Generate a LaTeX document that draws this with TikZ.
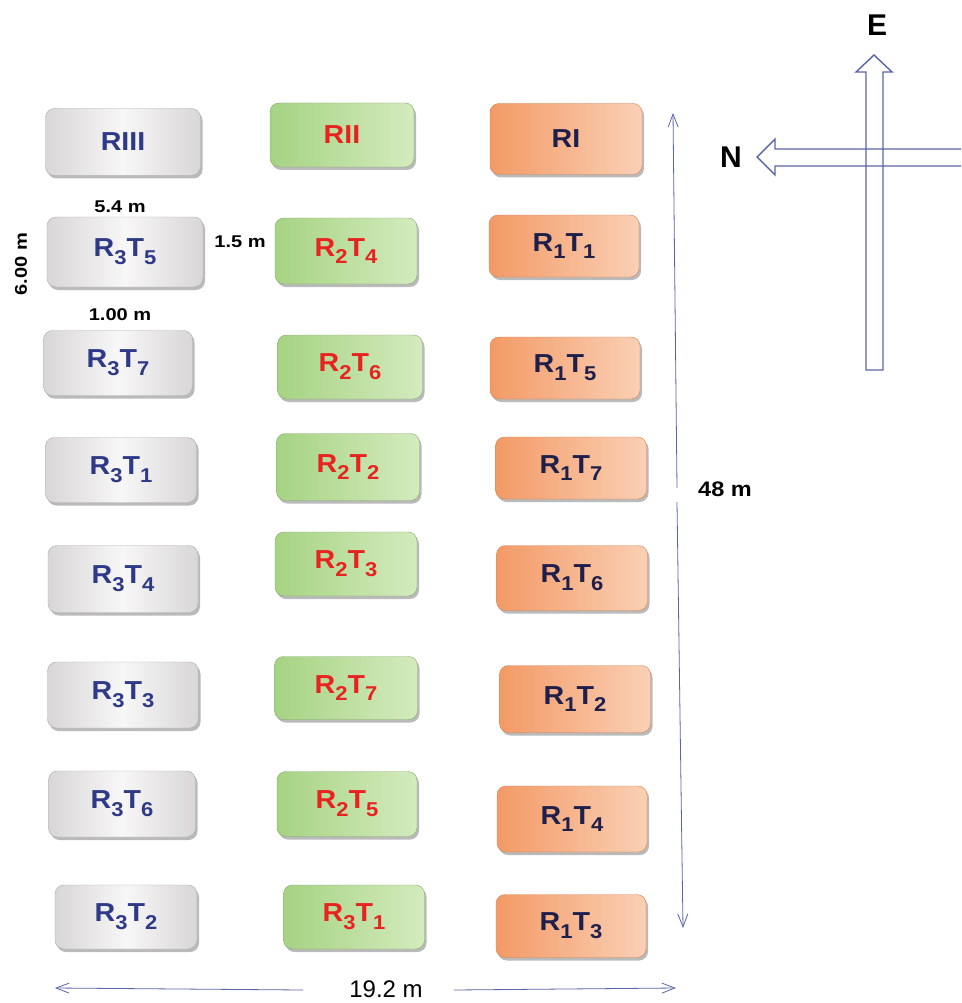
\documentclass[tikz,border=0pt]{standalone}
\usepackage{fontspec}
\setmainfont{Liberation Sans}
\usetikzlibrary{arrows.meta,shadows}
\definecolor{txtblue}{HTML}{2E3A87}
\definecolor{txtred}{HTML}{E8231F}
\definecolor{txtnavy}{HTML}{1E1F4A}
\definecolor{linblue}{HTML}{5A64A8}
\definecolor{grA}{HTML}{D8D6D6}
\definecolor{grB}{HTML}{F8F7F7}
\definecolor{gnA}{HTML}{A6D383}
\definecolor{gnB}{HTML}{D4EBBE}
\definecolor{orA}{HTML}{F39A66}
\definecolor{orB}{HTML}{FAD0B5}
\newcommand\sbs[1]{\raisebox{-0.3em}{\fontsize{20}{20}\selectfont #1}}
\newcommand\widetxt[1]{\scalebox{1.1}[1]{#1}}
\newcommand\widelab[1]{\scalebox{1.18}[1]{#1}}
\tikzset{
  plot/.style={rounded corners=9pt, inner sep=0pt, font=\bfseries\fontsize{26}{26}\selectfont,
    drop shadow={shadow xshift=2pt, shadow yshift=-3pt, fill=black!45, opacity=0.6}},
  greybox/.style={plot, draw=grA!80!black, line width=0.4pt, left color=grA, right color=grA, middle color=grB, text=txtblue},
  greenbox/.style={plot, draw=gnA!80!black, line width=0.4pt, left color=gnA, right color=gnB, text=txtred},
  orangebox/.style={plot, draw=orA!85!black, line width=0.4pt, left color=orA, right color=orB, text=txtnavy},
  dim/.style={draw=linblue, line width=0.8pt},
  dimtip/.style={-{Straight Barb[length=13pt,width=10pt,line width=0.8pt]}},
  lab/.style={font=\bfseries\fontsize{17}{17}\selectfont, text=black, inner sep=0pt},
  compass/.style={draw=linblue, line width=1.4pt, line join=miter},
}
\begin{document}
\begin{tikzpicture}[x=1pt,y=-1pt]
\useasboundingbox (0,0) rectangle (961,1003);
% grey column
\node[greybox, minimum width=155pt, minimum height=67pt] (RIII) at (123,142) {\widetxt{RIII}};
\node[greybox, minimum width=156pt, minimum height=70pt] (r3t5) at (125,252) {\widetxt{R\sbs{3}T\sbs{5}}};
\node[greybox, minimum width=149pt, minimum height=65pt] (r3t7) at (118,363) {\widetxt{R\sbs{3}T\sbs{7}}};
\node[greybox, minimum width=151pt, minimum height=65pt] (r3t1) at (121,470) {\widetxt{R\sbs{3}T\sbs{1}}};
\node[greybox, minimum width=150pt, minimum height=67pt] (r3t4) at (123,579) {\widetxt{R\sbs{3}T\sbs{4}}};
\node[greybox, minimum width=151pt, minimum height=66pt] (r3t3) at (123,695) {\widetxt{R\sbs{3}T\sbs{3}}};
\node[greybox, minimum width=147pt, minimum height=66pt] (r3t6) at (122,804) {\widetxt{R\sbs{3}T\sbs{6}}};
\node[greybox, minimum width=142pt, minimum height=64pt] (r3t2) at (126,917) {\widetxt{R\sbs{3}T\sbs{2}}};
% green column
\node[greenbox, minimum width=144pt, minimum height=64pt] (RII) at (342,135) {\widetxt{RII}};
\node[greenbox, minimum width=142pt, minimum height=66pt] (r2t4) at (346,251) {\widetxt{R\sbs{2}T\sbs{4}}};
\node[greenbox, minimum width=145pt, minimum height=64pt] (r2t6) at (350,367) {\widetxt{R\sbs{2}T\sbs{6}}};
\node[greenbox, minimum width=143pt, minimum height=67pt] (r2t2) at (348,467) {\widetxt{R\sbs{2}T\sbs{2}}};
\node[greenbox, minimum width=142pt, minimum height=64pt] (r2t3) at (346,564) {\widetxt{R\sbs{2}T\sbs{3}}};
\node[greenbox, minimum width=143pt, minimum height=63pt] (r2t7) at (346,688) {\widetxt{R\sbs{2}T\sbs{7}}};
\node[greenbox, minimum width=140pt, minimum height=65pt] (r2t5) at (347,804) {\widetxt{R\sbs{2}T\sbs{5}}};
\node[greenbox, minimum width=141pt, minimum height=64pt] (g3t1) at (354,917) {\widetxt{R\sbs{3}T\sbs{1}}};
% orange column
\node[orangebox, minimum width=152pt, minimum height=71pt] (RI) at (566,139) {\widetxt{RI}};
\node[orangebox, minimum width=150pt, minimum height=62pt] (r1t1) at (564,246) {\widetxt{R\sbs{1}T\sbs{1}}};
\node[orangebox, minimum width=150pt, minimum height=62pt] (r1t5) at (565,368) {\widetxt{R\sbs{1}T\sbs{5}}};
\node[orangebox, minimum width=151pt, minimum height=62pt] (r1t7) at (571,468) {\widetxt{R\sbs{1}T\sbs{7}}};
\node[orangebox, minimum width=151pt, minimum height=65pt] (r1t6) at (572,578) {\widetxt{R\sbs{1}T\sbs{6}}};
\node[orangebox, minimum width=151pt, minimum height=67pt] (r1t2) at (575,699) {\widetxt{R\sbs{1}T\sbs{2}}};
\node[orangebox, minimum width=150pt, minimum height=66pt] (r1t4) at (572,819) {\widetxt{R\sbs{1}T\sbs{4}}};
\node[orangebox, minimum width=150pt, minimum height=63pt] (r1t3) at (571,926) {\widetxt{R\sbs{1}T\sbs{3}}};
% small dimension labels
\node[lab] (l54) at (120,207) {\widelab{5.4 m}};
\node[lab, rotate=90] (l600) at (21,264) {\widelab{6.00 m}};
\node[lab] (l15) at (240,242) {\widelab{1.5 m}};
\node[lab] (l100) at (120,315) {\widelab{1.00 m}};
\node[lab, font=\bfseries\fontsize{21}{21}\selectfont] (l48) at (725,489) {\scalebox{1.12}[1]{48 m}};
% 48 m arrow
\coordinate (vtop) at (673,113);
\coordinate (vgapA) at (677,488);
\coordinate (vgapB) at (677,502);
\coordinate (vbot) at (683,928);
\draw[dim, dimtip] (vgapA) -- (vtop);
\draw[dim, dimtip] (vgapB) -- (vbot);
% 19.2 m arrow
\node[font=\fontsize{24}{24}\selectfont, inner sep=0pt] (l192) at (386,989) {19.2 m};
\coordinate (hleft) at (55,988);
\coordinate (hright) at (676,988);
\draw[dim, dimtip] (l192.west) ++(-46pt,-1pt) -- (hleft);
\draw[dim, dimtip] (l192.east) ++(31pt,-1pt) -- (hright);
% compass
\draw[compass] (866,370) -- (866,72) -- (856,72) -- (874,55) -- (892,72) -- (883,72) -- (883,370) -- cycle;
\draw[compass] (961,149) -- (775,149) -- (775,139) -- (757,157) -- (775,175) -- (775,166) -- (961,166);
\node[font=\bfseries\fontsize{30}{30}\selectfont, inner sep=0pt] (E) at (877,25) {E};
\node[font=\bfseries\fontsize{30}{30}\selectfont, inner sep=0pt] (N) at (731,157) {N};
\end{tikzpicture}
\end{document}
